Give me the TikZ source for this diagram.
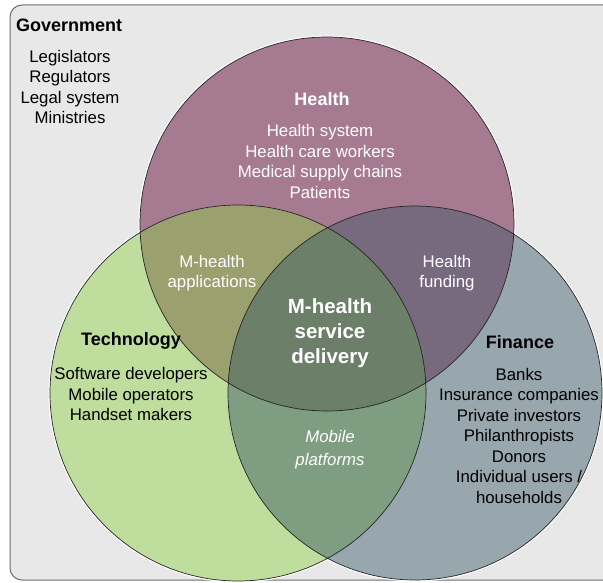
\documentclass[tikz,border=0pt]{standalone}
\usepackage{fontspec}
\setmainfont{Liberation Sans}
\definecolor{govbg}{HTML}{E8E8E8}
\definecolor{framec}{HTML}{6E6E6E}
\definecolor{healthc}{HTML}{A67A90}
\definecolor{techc}{HTML}{BFDD9D}
\definecolor{financec}{HTML}{98A7AD}
\definecolor{healthtech}{HTML}{9BA06F}
\definecolor{healthfin}{HTML}{776A7F}
\definecolor{techfin}{HTML}{7F9D80}
\definecolor{allc}{HTML}{6C7F69}
\newcommand\healthcircle{(327,358) circle (187)}
\newcommand\techcircle{(238,189) circle (188)}
\newcommand\financecircle{(415,189) circle (187)}
\tikzset{
	txt/.style={align=center,inner sep=0pt,font=\fontsize{16.8}{20.5}\selectfont},
	hd/.style={inner sep=0pt,font=\fontsize{18}{22}\selectfont\bfseries},
	mid/.style={align=center,inner sep=0pt,text=white,font=\fontsize{20.5}{25}\selectfont\bfseries},
}
\begin{document}
\begin{tikzpicture}[x=1pt,y=1pt]
	\useasboundingbox (0,0) rectangle (603,582);
	\clip (0,0) rectangle (603,582);
	\draw[framec,fill=govbg,line width=1pt,rounded corners=12pt] (10,2) rectangle (616,577);
	% circles and their overlaps
	\draw[white,line width=3pt] \healthcircle \techcircle \financecircle;
	\fill[healthc] \healthcircle;
	\fill[techc] \techcircle;
	\fill[financec] \financecircle;
	\begin{scope}
		\clip \techcircle;
		\fill[techfin] \financecircle;
	\end{scope}
	\begin{scope}
		\clip \healthcircle;
		\fill[healthtech] \techcircle;
		\fill[healthfin] \financecircle;
		\clip \techcircle;
		\fill[allc] \financecircle;
	\end{scope}
	\draw[black!85,line width=0.7pt] \healthcircle \techcircle \financecircle;
	% texts
	\node[hd,anchor=west] (gov) at (16,557) {Government};
	\node[txt] (govlist) at (70,495) {Legislators\\Regulators\\Legal system\\Ministries};
	\node[hd,text=white] (health) at (322,483) {Health};
	\node[txt,text=white] (healthlist) at (320,420.5) {Health system\\Health care workers\\Medical supply chains\\Patients};
	\node[txt,text=white] (apps) at (212,309) {M-health\\applications};
	\node[txt,text=white] (funding) at (447,309) {Health\\funding};
	\node[mid] (delivery) at (330,249) {M-health\\service\\delivery};
	\node[hd] (tech) at (131,241) {Technology};
	\node[txt] (techlist) at (131,188) {Software developers\\Mobile operators\\Handset makers};
	\node[hd] (finance) at (520,240) {Finance};
	\node[txt] (financelist) at (519,146.5) {Banks\\Insurance companies\\Private investors\\Philanthropists\\Donors\\Individual users /\\households};
	\node[txt,text=white,font=\fontsize{16.8}{23}\selectfont\itshape] (platforms) at (330,132.5) {Mobile\\platforms};
\end{tikzpicture}
\end{document}
